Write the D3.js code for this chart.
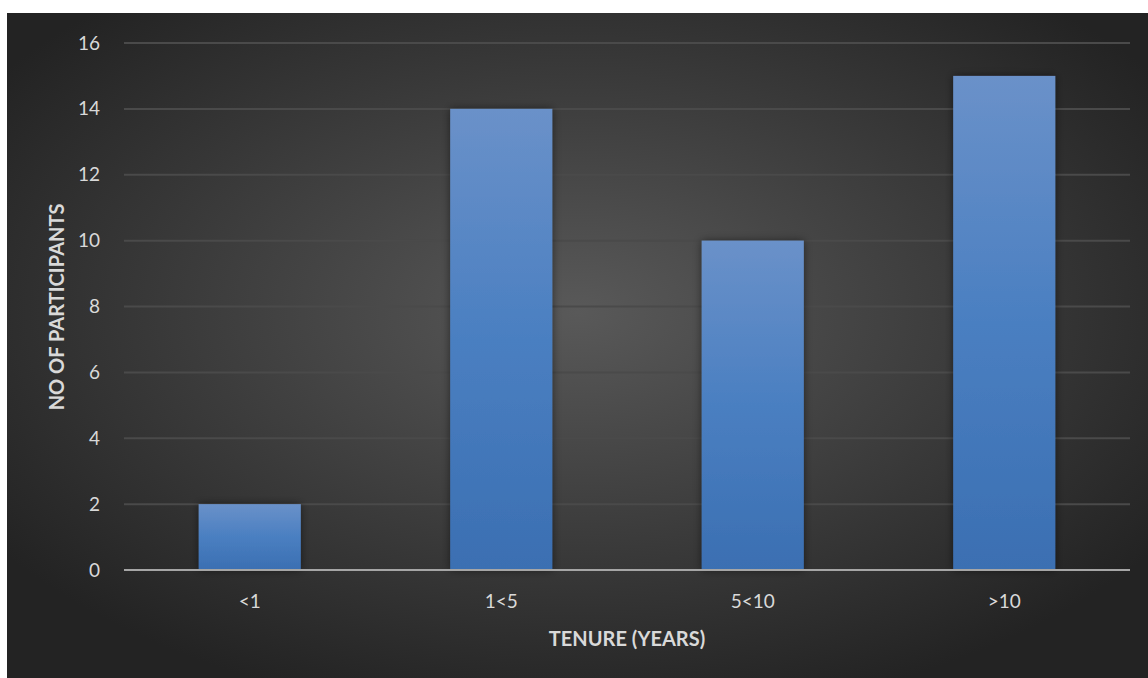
<!DOCTYPE html>
<html>
<head>
<meta charset="utf-8">
<script src="https://cdn.jsdelivr.net/npm/d3@7"></script>
<style>
  html, body { margin: 0; padding: 0; background: #ffffff; }
  svg { display: block; }
  .tick text { font-family: Lato, "Open Sans", sans-serif; fill: #d9d9d9; }
</style>
</head>
<body>
<div id="chart"></div>
<script>
// data
var categories = ['<1', '1<5', '5<10', '>10'];
var participants = [2, 14, 10, 15];
var yTicks = [0, 2, 4, 6, 8, 10, 12, 14, 16];

// dimensions
var W = 1148, H = 678;
var margin = { left: 124, right: 18, top: 43, bottom: 108 };

var svg = d3.select('#chart').append('svg')
    .attr('width', W)
    .attr('height', H);

var defs = svg.append('defs');

var bg = defs.append('radialGradient')
    .attr('id', 'bgGrad')
    .attr('cx', '50%').attr('cy', '45%').attr('r', '62%');
bg.append('stop').attr('offset', '0%').attr('stop-color', '#595959');
bg.append('stop').attr('offset', '100%').attr('stop-color', '#232323');

var barGrad = defs.append('linearGradient')
    .attr('id', 'barGrad')
    .attr('x1', 0).attr('y1', 0).attr('x2', 0).attr('y2', 1);
barGrad.append('stop').attr('offset', '0%').attr('stop-color', '#6a91c9');
barGrad.append('stop').attr('offset', '50%').attr('stop-color', '#4a7fc1');
barGrad.append('stop').attr('offset', '100%').attr('stop-color', '#3b6fb2');

var shadow = defs.append('filter')
    .attr('id', 'shadow')
    .attr('x', '-20%').attr('y', '-20%').attr('width', '140%').attr('height', '140%');
shadow.append('feDropShadow')
    .attr('dx', 0).attr('dy', 0).attr('stdDeviation', 4)
    .attr('flood-color', '#000').attr('flood-opacity', 0.5);

// background
svg.append('rect')
    .attr('x', 7).attr('y', 13)
    .attr('width', W - 7).attr('height', H - 13)
    .attr('fill', 'url(#bgGrad)');

// scales
var x = d3.scaleBand()
    .domain(categories)
    .range([margin.left, W - margin.right])
    .paddingInner(0.594)
    .paddingOuter(0.297);

var y = d3.scaleLinear()
    .domain([0, 16])
    .range([H - margin.bottom, margin.top]);

// gridlines
svg.append('g')
    .selectAll('line')
    .data(yTicks.filter(function(d) { return d > 0; }))
    .enter()
    .append('line')
    .attr('x1', margin.left).attr('x2', W - margin.right)
    .attr('y1', function(d) { return y(d); })
    .attr('y2', function(d) { return y(d); })
    .attr('stroke', '#4a4a4a')
    .attr('stroke-width', 2);

// y axis
var yAxis = d3.axisLeft(y)
    .tickValues(yTicks)
    .tickSize(0)
    .tickPadding(24);

var yG = svg.append('g')
    .attr('transform', 'translate(' + margin.left + ',0)')
    .call(yAxis);
yG.select('.domain').remove();
yG.selectAll('text').style('font-size', '19px');

// bars
svg.append('g')
    .selectAll('rect')
    .data(participants)
    .enter()
    .append('rect')
    .attr('x', function(d, i) { return x(categories[i]); })
    .attr('y', function(d) { return y(d); })
    .attr('width', x.bandwidth())
    .attr('height', function(d) { return y(0) - y(d); })
    .attr('fill', 'url(#barGrad)')
    .attr('filter', 'url(#shadow)');

// baseline
svg.append('line')
    .attr('x1', margin.left).attr('x2', W - margin.right)
    .attr('y1', y(0)).attr('y2', y(0))
    .attr('stroke', '#a6a6a6')
    .attr('stroke-width', 2);

// x axis
var xAxis = d3.axisBottom(x)
    .tickSize(0)
    .tickPadding(25);

var xG = svg.append('g')
    .attr('transform', 'translate(0,' + y(0) + ')')
    .call(xAxis);
xG.select('.domain').remove();
xG.selectAll('text').style('font-size', '19px');

// axis titles
svg.append('text')
    .attr('x', (margin.left + W - margin.right) / 2)
    .attr('y', 646)
    .attr('text-anchor', 'middle')
    .style('font-family', 'Lato, "Open Sans", sans-serif')
    .style('font-weight', 'bold')
    .style('font-size', '20px')
    .attr('fill', '#d9d9d9')
    .text('TENURE (YEARS)');

svg.append('text')
    .attr('transform', 'translate(64,' + 307 + ') rotate(-90)')
    .attr('text-anchor', 'middle')
    .style('font-family', 'Lato, "Open Sans", sans-serif')
    .style('font-weight', 'bold')
    .style('font-size', '20px')
    .attr('fill', '#d9d9d9')
    .text('NO OF PARTICIPANTS');
</script>
</body>
</html>
